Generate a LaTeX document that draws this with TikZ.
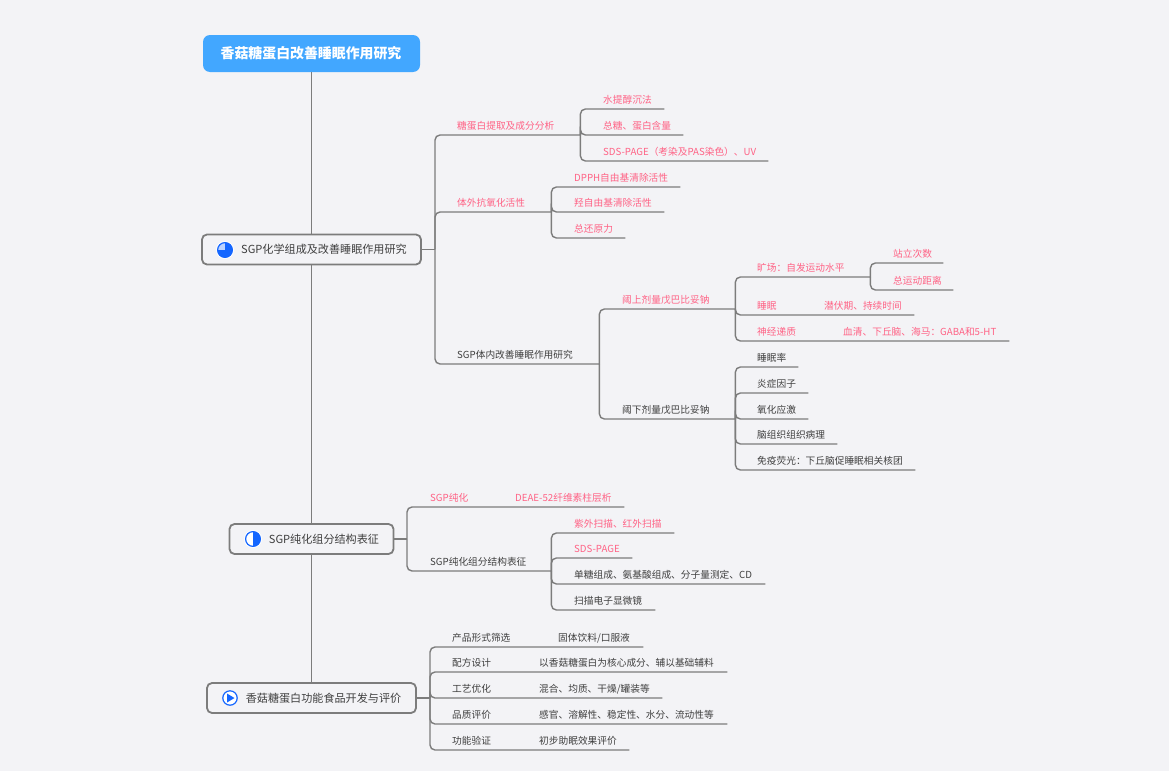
\documentclass[tikz,border=0pt]{standalone}
\usepackage{fontspec}
\setmainfont{Noto Sans CJK SC}
\definecolor{bgc}{HTML}{F3F3F6}
\definecolor{linec}{HTML}{7C7C7C}
\definecolor{pinkc}{HTML}{FF6285}
\definecolor{darkc}{HTML}{3F3F3F}
\definecolor{rootc}{HTML}{42A7FF}
\definecolor{iconc}{HTML}{1466FF}
\definecolor{iconl}{HTML}{BCD3FF}
\tikzset{
  conn/.style={draw=linec,line width=1.4pt,rounded corners=5pt},
  rootbox/.style={fill=rootc,rounded corners=7pt,text=white,font=\fontsize{13.9pt}{16pt}\selectfont\bfseries,minimum width=217pt,minimum height=37pt,inner sep=0pt},
  mainbox/.style={draw=linec,line width=1.8pt,fill=bgc,rounded corners=5pt,text=darkc,font=\fontsize{11.1pt}{14pt}\selectfont,minimum height=30pt,inner sep=0pt},
  topicbase/.style={anchor=south west,inner sep=0pt,align=left,text height=9pt,text depth=5.5pt,font=\fontsize{9.7pt}{11pt}\selectfont},
  pk/.style={topicbase,text=pinkc},
  dk/.style={topicbase,text=darkc},
}
% name, style, x of text, y of line, x of line end, text
\newcommand\topic[6]{%
  \pgfmathsetlengthmacro{\tw}{(#5-#3)*1pt}%
  \node[#2,text width=\tw] (#1) at (#3,#4) {#6};}
\begin{document}
\begin{tikzpicture}[x=1pt,y=-1pt]
\useasboundingbox[fill=bgc] (0,0) rectangle (1169,771);
% main boxes
\node[rootbox] (root) at (311.5,53.5) {\hspace*{-1pt}\raisebox{-1pt}{香菇糖蛋白改善睡眠作用研究}};
\node[mainbox,minimum width=219pt] (b1) at (311.5,249.5) {\hspace*{25pt}\raisebox{-0.7pt}{SGP化学组成及改善睡眠作用研究}};
\node[mainbox,minimum width=164pt] (b2) at (311.5,539) {\hspace*{25pt}\raisebox{-0.7pt}{SGP纯化组分结构表征}};
\node[mainbox,minimum width=209pt] (b3) at (311.5,698) {\hspace*{24pt}\raisebox{-0.7pt}{香菇糖蛋白功能食品开发与评价}};
\draw[conn] (root.south) -- (b1.north);
\draw[conn] (b1.south) -- (b2.north);
\draw[conn] (b2.south) -- (b3.north);
% icons
\fill[white] (225,250) circle (9);
\draw[iconc,line width=1.2pt,fill=iconl] (225,250) circle (7.4);
\fill[iconc] (225,250) -- (225,242.6) arc[start angle=-90,end angle=180,radius=7.4] -- cycle;
\fill[white] (253,539) circle (9);
\draw[iconc,line width=1.2pt,fill=white] (253,539) circle (7.4);
\fill[iconc] (253,531.6) arc[start angle=-90,end angle=90,radius=7.4] -- cycle;
\draw[iconc,line width=1.2pt,fill=white] (230,698) circle (7.2);
\fill[iconc] (227,693.5) -- (234.5,698) -- (227,702.5) -- cycle;
% branch 1
\coordinate (j1) at (435,249.5);
\topic{a1}{pk}{457}{135}{580}{糖蛋白提取及成分分析}
\topic{a2}{pk}{457}{212}{551}{体外抗氧化活性}
\topic{a3}{dk}{457}{364}{599}{SGP体内改善睡眠作用研究}
\topic{a11}{pk}{603}{109}{664}{水提醇沉法}
\topic{a12}{pk}{603}{135}{683}{总糖、蛋白含量}
\topic{a13}{pk}{603}{161}{768}{SDS-PAGE（考染及PAS染色）、UV}
\topic{a21}{pk}{574}{187}{680}{DPPH自由基清除活性}
\topic{a22}{pk}{574}{212}{664}{羟自由基清除活性}
\topic{a23}{pk}{574}{238}{625}{总还原力}
\topic{a31}{pk}{622}{309}{735}{阈上剂量戊巴比妥钠}
\topic{a32}{dk}{622}{419}{735}{阈下剂量戊巴比妥钠}
\topic{c1}{pk}{757}{277}{870}{旷场：自发运动水平}
\topic{c2}{pk}{757}{315}{800}{睡眠}
\topic{c2x}{pk}{824}{315}{914}{潜伏期、持续时间}
\topic{c3}{pk}{757}{341}{820}{神经递质}
\topic{c3x}{pk}{843}{341}{1009}{血清、下丘脑、海马：GABA和5-HT}
\topic{c11}{pk}{893}{263}{943}{站立次数}
\topic{c12}{pk}{893}{290}{953}{总运动距离}
\topic{d1}{dk}{757}{367}{798}{睡眠率}
\topic{d2}{dk}{757}{393}{808}{炎症因子}
\topic{d3}{dk}{757}{419}{808}{氧化应激}
\topic{d4}{dk}{757}{444}{837}{脑组织组织病理}
\topic{d5}{dk}{757}{470}{915}{免疫荧光：下丘脑促睡眠相关核团}
\draw[conn] (b1.east) -- (j1);
\foreach \c in {a1,a2,a3} \draw[conn] (j1) |- (\c.south east);
\foreach \c in {a11,a12,a13} \draw[conn] (a1.south east) |- (\c.south east);
\foreach \c in {a21,a22,a23} \draw[conn] (a2.south east) |- (\c.south east);
\foreach \c in {a31,a32} \draw[conn] (a3.south east) |- (\c.south east);
\draw[conn] (a31.south east) |- (c1.south east);
\draw[conn] (a31.south east) |- (c2.south east) -- (c2x.south east);
\draw[conn] (a31.south east) |- (c3.south east) -- (c3x.south east);
\foreach \c in {c11,c12} \draw[conn] (c1.south east) |- (\c.south east);
\foreach \c in {d1,d2,d3,d4,d5} \draw[conn] (a32.south east) |- (\c.south east);
% branch 2
\coordinate (j2) at (407,539);
\topic{e1}{pk}{430}{507}{500}{SGP纯化}
\topic{e1x}{pk}{515}{507}{624}{DEAE-52纤维素柱层析}
\topic{e2}{dk}{430}{571}{551}{SGP纯化组分结构表征}
\topic{f1}{pk}{574}{533}{674}{紫外扫描、红外扫描}
\topic{f2}{pk}{574}{558}{632}{SDS-PAGE}
\topic{f3}{dk}{574}{584}{765}{单糖组成、氨基酸组成、分子量测定、CD}
\topic{f4}{dk}{574}{610}{655}{扫描电子显微镜}
\draw[conn] (b2.east) -- (j2);
\draw[conn] (j2) |- (e1.south east) -- (e1x.south east);
\draw[conn] (j2) |- (e2.south east);
\foreach \c in {f1,f2,f3,f4} \draw[conn] (e2.south east) |- (\c.south east);
% branch 3
\coordinate (j3) at (430,698);
\topic{g1}{dk}{452}{647}{530}{产品形式筛选}
\topic{g1x}{dk}{558}{647}{643}{固体饮料/口服液}
\topic{g2}{dk}{452}{672}{525}{配方设计}
\topic{g2x}{dk}{539}{672}{727}{以香菇糖蛋白为核心成分、辅以基础辅料}
\topic{g3}{dk}{452}{698}{525}{工艺优化}
\topic{g3x}{dk}{539}{698}{662}{混合、均质、干燥/罐装等}
\topic{g4}{dk}{452}{724}{525}{品质评价}
\topic{g4x}{dk}{539}{724}{727}{感官、溶解性、稳定性、水分、流动性等}
\topic{g5}{dk}{452}{750}{525}{功能验证}
\topic{g5x}{dk}{539}{750}{629}{初步助眠效果评价}
\draw[conn] (b3.east) -- (j3);
\foreach \c in {g1,g2,g3,g4,g5} \draw[conn] (j3) |- (\c.south east) -- (\c x.south east);
\end{tikzpicture}
\end{document}
